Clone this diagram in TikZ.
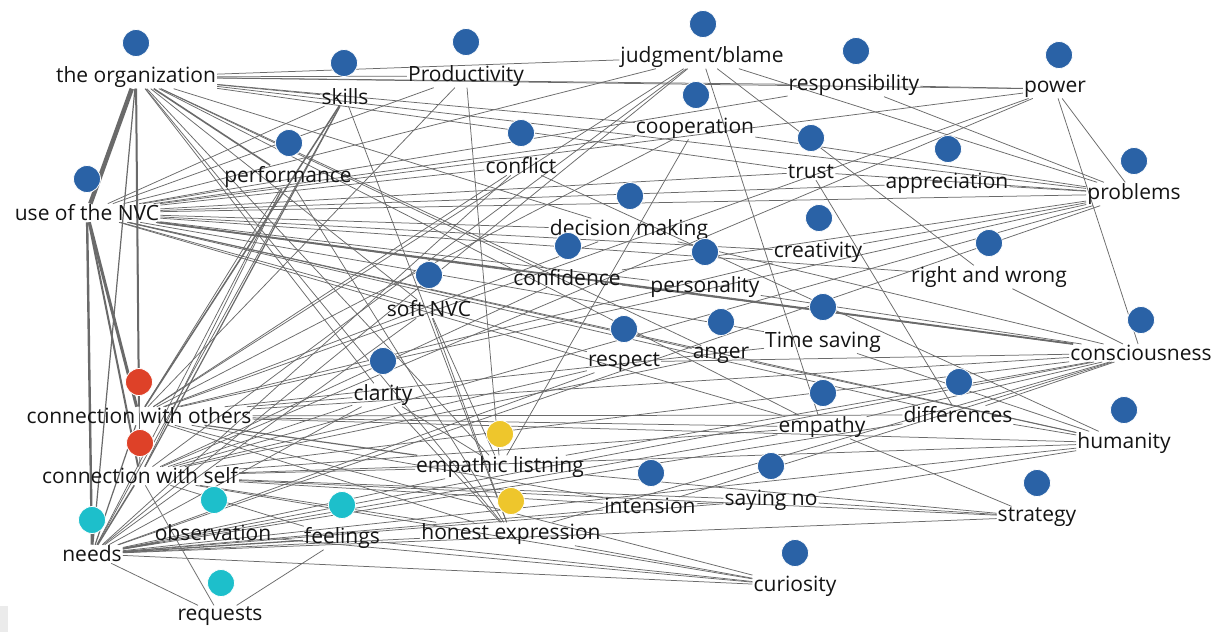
\documentclass[tikz,border=0pt]{standalone}
\usepackage{fontspec}
\setmainfont{Open Sans}
\usetikzlibrary{backgrounds}
\definecolor{dotblue}{HTML}{2A62A6}
\definecolor{dotred}{HTML}{DE4128}
\definecolor{dotyellow}{HTML}{EEC62C}
\definecolor{dotcyan}{HTML}{1DBFCB}
\definecolor{linkgray}{HTML}{6A6A6A}
\begin{document}
\begin{tikzpicture}[x=1pt,y=-1pt,
  term/.style={inner sep=1pt, font=\fontsize{21}{24}\selectfont, text=black!92},
  dot/.style={circle, minimum size=27pt, inner sep=0pt, draw=white, line width=0.8pt},
  link/.style={draw=linkgray, line width=0.75pt},
]
\useasboundingbox (0,0) rectangle (1231,632);

% concepts: name / label x / label y / dot x / dot y / text / colour
\foreach \n/\lx/\ly/\cx/\cy/\t/\c in {
  org/136/77/136/43/{the organization}/dotblue,
  skills/345/97/344/63/{skills}/dotblue,
  prod/466/76/466/42/{Productivity}/dotblue,
  judg/702/57/703/24/{judgment/blame}/dotblue,
  resp/854/85/856/51/{responsibility}/dotblue,
  power/1055/89/1059/55/{power}/dotblue,
  coop/695/128/696/95/{cooperation}/dotblue,
  perf/288/177/289/143/{performance}/dotblue,
  confl/521/166/521/133/{conflict}/dotblue,
  trust/811/172/811/138/{trust}/dotblue,
  appr/947/183/948/149/{appreciation}/dotblue,
  probl/1134/194/1134/161/{problems}/dotblue,
  nvc/87/213/87/179/{use of the NVC}/dotblue,
  dec/629/230/630/196/{decision making}/dotblue,
  creat/818/252/819/218/{creativity}/dotblue,
  rw/989/277/989/243/{right and wrong}/dotblue,
  conf/567/278/568/246/{confidence}/dotblue,
  pers/705/287/705/252/{personality}/dotblue,
  soft/429/309/429/275/{soft NVC}/dotblue,
  time/823/342/823/307/{Time saving}/dotblue,
  consc/1141/353/1141/320/{consciousness}/dotblue,
  rspct/624/362/624/329/{respect}/dotblue,
  anger/721/355/721/322/{anger}/dotblue,
  clar/383/395/383/361/{clarity}/dotblue,
  cwo/139/416/139/382/{connection with others}/dotred,
  diff/958/415/959/382/{differences}/dotblue,
  emp/822/427/823/393/{empathy}/dotblue,
  hum/1124/443/1124/410/{humanity}/dotblue,
  cws/140/476/140/443/{connection with self}/dotred,
  el/500/467/500/434/{empathic listning}/dotyellow,
  int/650/506/651/473/{intension}/dotblue,
  no/771/500/771/466/{saying no}/dotblue,
  strat/1037/517/1037/483/{strategy}/dotblue,
  obs/213/533/214/500/{observation}/dotcyan,
  feel/342/538/342/505/{feelings}/dotcyan,
  he/511/534/511/501/{honest expression}/dotyellow,
  needs/92/554/92/520/{needs}/dotcyan,
  cur/795/586/795/553/{curiosity}/dotblue,
  req/220/616/221/583/{requests}/dotcyan}
{
  \node[term] (\n) at (\lx,\ly) {\t};
  \node[dot, fill=\c] (\n-dot) at (\cx,\cy) {};
}

\begin{scope}[on background layer]
  \fill[white] (0,0) rectangle (1231,632);
  \fill[black!8] (0,606) rectangle (8,632);
  % weighted links
  \foreach \a/\b/\w in {org/nvc/4.5, nvc/cwo/3, nvc/cws/2, nvc/needs/2.4,
      org/cwo/2, org/needs/1.2, nvc/consc/1.8, org/perf/1.6, cwo/skills/1.5,
      needs/cws/1.5, needs/cwo/1.2, needs/obs/1.6, needs/feel/1.3,
      cws/skills/1.2, cwo/el/1.2}
    \draw[link, line width=\w pt] (\a) -- (\b);
  % plain links
  \foreach \a/\b in {
      org/prod, org/judg, org/power, org/resp, org/skills, org/coop, org/probl,
      org/trust, org/clar, org/soft, org/el, org/he, org/conf, org/dec, org/cws,
      org/emp, org/anger,
      nvc/perf, nvc/confl, nvc/coop, nvc/judg, nvc/trust, nvc/probl, nvc/power,
      nvc/appr, nvc/resp, nvc/skills, nvc/prod, nvc/pers, nvc/rw, nvc/emp,
      nvc/diff, nvc/hum, nvc/rspct, nvc/time, nvc/anger, nvc/dec, nvc/conf,
      nvc/creat,
      cwo/perf, cwo/prod, cwo/confl, cwo/judg, cwo/power, cwo/probl, cwo/coop,
      cwo/dec, cwo/creat, cwo/consc, cwo/emp, cwo/diff, cwo/hum, cwo/he,
      cwo/cur, cwo/time, cwo/clar, cwo/int,
      cws/perf, cws/judg, cws/probl, cws/power, cws/consc, cws/emp, cws/hum,
      cws/el, cws/he, cws/feel, cws/int, cws/no, cws/cur, cws/strat, cws/rspct,
      cws/anger, cws/clar, cws/conf,
      needs/he, needs/el, needs/int, needs/no, needs/cur, needs/strat,
      needs/emp, needs/consc, needs/hum, needs/diff, needs/clar, needs/soft,
      needs/req, needs/skills, needs/perf, needs/confl, needs/judg,
      needs/probl, needs/rspct,
      skills/he, soft/he, soft/el, judg/emp, judg/rw, judg/probl, resp/probl,
      power/probl, power/consc, coop/probl, trust/probl, appr/probl, rw/consc,
      probl/conf, emp/strat, no/strat, no/hum, int/no, int/consc, time/hum,
      diff/hum, diff/consc, emp/consc, anger/hum, rspct/consc, el/consc,
      he/consc, el/strat, obs/cur, feel/cur, he/cur, feel/req, req/cws,
      perf/he, clar/el, clar/he, dec/consc, pers/consc, creat/probl,
      conf/consc, prod/el, confl/hum, coop/el, trust/diff, resp/power}
    \draw[link] (\a) -- (\b);
\end{scope}
\end{tikzpicture}
\end{document}
